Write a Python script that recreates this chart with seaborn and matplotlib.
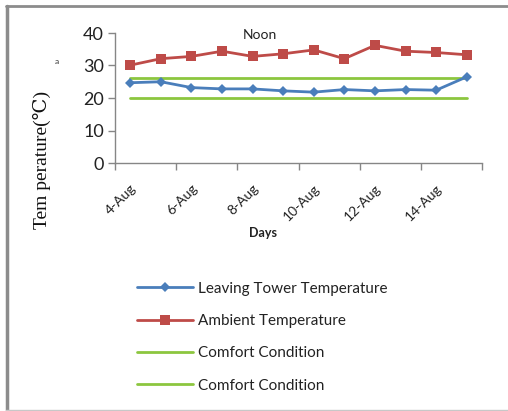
import matplotlib
matplotlib.use("Agg")
import matplotlib.pyplot as plt
from matplotlib.lines import Line2D
import seaborn as sns
import pandas as pd

days = ["4-Aug", "5-Aug", "6-Aug", "7-Aug", "8-Aug", "9-Aug", "10-Aug",
        "11-Aug", "12-Aug", "13-Aug", "14-Aug", "15-Aug"]
leaving_tower = [24.7, 25.0, 23.2, 22.8, 22.8, 22.2, 21.8, 22.6, 22.2, 22.6, 22.4, 26.5]
ambient = [30.1, 32.1, 32.8, 34.4, 32.8, 33.6, 34.8, 32.1, 36.2, 34.4, 34.0, 33.3]
comfort_upper = [26, 26, 26, 26, 26, 26, 26, 26, 26, 26, 26, 26]
comfort_lower = [20, 20, 20, 20, 20, 20, 20, 20, 20, 20, 20, 20]
tick_labels = ["4-Aug", "6-Aug", "8-Aug", "10-Aug", "12-Aug", "14-Aug"]
yticks = [0, 10, 20, 30, 40]

sns.set_theme(style="white")
plt.rcParams["font.family"] = ["Lato", "DejaVu Sans"]

df = pd.DataFrame({"day": days, "leaving": leaving_tower, "ambient": ambient,
                   "cu": comfort_upper, "cl": comfort_lower})
df["pos"] = range(len(days))

W, H = 508, 411
fig = plt.figure(figsize=(W / 100, H / 100), dpi=100)
ax = fig.add_axes([115 / W, 1 - 163 / H, (482 - 115) / W, (163 - 33) / H])

blue = "#4a7ebb"
red = "#be4b48"
green = "#8cc63f"

sns.lineplot(data=df, x="pos", y="cu", ax=ax, color=green, lw=2, legend=False)
sns.lineplot(data=df, x="pos", y="cl", ax=ax, color=green, lw=2, legend=False)
sns.lineplot(data=df, x="pos", y="ambient", ax=ax, color=red, lw=2,
             marker="s", markersize=7, markeredgewidth=0, legend=False)
sns.lineplot(data=df, x="pos", y="leaving", ax=ax, color=blue, lw=2,
             marker="D", markersize=5.5, markeredgewidth=0, legend=False)

ax.set_xlim(-0.5, len(days) - 0.5)
ax.set_ylim(0, 40)
ax.set_yticks(yticks)
ax.set_yticklabels([str(v) for v in yticks], fontsize=13, color="#222222")
ax.set_xticks([i - 0.5 for i in range(0, len(days) + 1, 2)])
ax.set_xticklabels([""] * len(ax.get_xticks()))
for i, lab in enumerate(tick_labels):
    ax.text(2 * i, -5.9, lab, rotation=45, ha="right", va="top",
            rotation_mode="anchor", fontsize=10, color="#222222")
ax.set_xlabel("")
ax.set_ylabel("")
ax.tick_params(axis="both", direction="out", length=5, width=1, color="#868686",
               bottom=True, left=True, pad=3)
for s in ["top", "right"]:
    ax.spines[s].set_visible(False)
for s in ["left", "bottom"]:
    ax.spines[s].set_color("#868686")
    ax.spines[s].set_linewidth(1)
ax.set_facecolor("none")

fig.text(260 / W, 1 - 35 / H, "Noon", ha="center", va="center", fontsize=10, color="#222222")
fig.text(263 / W, 1 - 233 / H, "Days", ha="center", va="center", fontsize=9,
         fontweight="bold", color="#222222")
fig.text(42 / W, 1 - 160 / H, "Tem perature(\u2103)", rotation=90, ha="center", va="center",
         fontsize=14, family=["Liberation Serif", "DejaVu Serif"], color="#111111")
fig.text(57 / W, 1 - 61 / H, "a", ha="center", va="center", fontsize=6, color="#333333")

handles = [
    Line2D([], [], color=blue, lw=2, marker="D", markersize=5, markeredgewidth=0),
    Line2D([], [], color=red, lw=2, marker="s", markersize=7, markeredgewidth=0),
    Line2D([], [], color=green, lw=2),
    Line2D([], [], color=green, lw=2),
]
labels = ["Leaving Tower Temperature", "Ambient Temperature",
          "Comfort Condition", "Comfort Condition"]
fig.legend(handles, labels, loc="upper left", bbox_to_anchor=(123 / W, 1 - 268 / H),
           frameon=False, fontsize=11, handlelength=3.7, handletextpad=0.3,
           labelspacing=1.2, numpoints=1, labelcolor="#222222")

# outer frame
fig.add_artist(Line2D([6 / W, 1], [1 - 6 / H, 1 - 6 / H], color="#8c8c8c", lw=2,
                      transform=fig.transFigure))
fig.add_artist(Line2D([7 / W, 7 / W], [1 - 6 / H, 1 - 410 / H], color="#8c8c8c", lw=2.5,
                      transform=fig.transFigure))
fig.add_artist(Line2D([6 / W, 1], [1 - 409.5 / H, 1 - 409.5 / H], color="#c8c8c8", lw=1,
                      transform=fig.transFigure))

fig.savefig("out.png", dpi=100, facecolor="white")
